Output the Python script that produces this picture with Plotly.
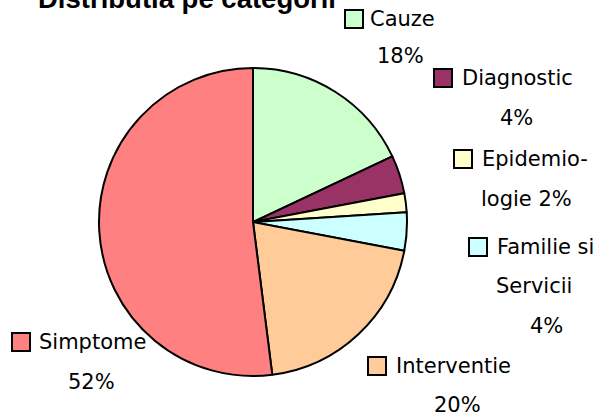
import plotly.graph_objects as go

# ---- data ----
categories = ["Cauze", "Diagnostic", "Epidemiologie", "Familie si Servicii", "Interventie", "Simptome"]
values = [18, 4, 2, 4, 20, 52]
colors = ["#CCFFCC", "#993366", "#FFFFCC", "#CCFFFF", "#FFCC99", "#FF8080"]
title_text = "Distributia pe categorii"

# how each category's label is broken into lines ("{p}" = percentage)
label_lines = [
    ["Cauze", "{p}"],
    ["Diagnostic", "{p}"],
    ["Epidemio-", "logie {p}"],
    ["Familie si", "Servicii", "{p}"],
    ["Interventie", "{p}"],
    ["Simptome", "{p}"],
]

# ---- layout (pixels) ----
W, H = 600, 417
def px(x):
    return x / W
def py(y):
    return 1 - y / H

# key-square left, first line centre y, first line text left, then (centre x, centre y) for following lines
label_pos = [
    (345, 19, 368, [(400, 56)]),
    (434, 78, 460, [(516, 118)]),
    (454, 159, 480, [(526, 199)]),
    (469, 247, 495, [(534, 286), (546, 326)]),
    (368, 366, 394, [(457, 405)]),
    (12, 342, 37, [(91, 382)]),
]

cx, cy, r = 253, 222, 154
fig = go.Figure(go.Pie(
    labels=categories,
    values=values,
    sort=False,
    direction="clockwise",
    rotation=0,
    marker=dict(colors=colors, line=dict(color="black", width=2)),
    textinfo="none",
    hoverinfo="label+percent",
    showlegend=False,
    domain=dict(x=[px(cx - r), px(cx + r)], y=[py(cy + r), py(cy - r)]),
))

font_name = "DejaVu Sans"
fsize = 21
annotations = []
shapes = []
for cat, val, col, lines, pos in zip(categories, values, colors, label_lines, label_pos):
    kx, y1, tx, rest = pos
    pct = f"{val}%"
    shapes.append(dict(type="rect", xref="paper", yref="paper",
                       x0=px(kx), x1=px(kx + 18), y0=py(y1 + 9), y1=py(y1 - 9),
                       fillcolor=col, line=dict(color="black", width=2)))
    annotations.append(dict(text=lines[0].replace("{p}", pct), x=px(tx), y=py(y1),
                            xref="paper", yref="paper", xanchor="left", yanchor="middle",
                            showarrow=False, font=dict(family=font_name, size=fsize, color="black")))
    for line, (lx, ly) in zip(lines[1:], rest):
        annotations.append(dict(text=line.replace("{p}", pct), x=px(lx), y=py(ly),
                                xref="paper", yref="paper", xanchor="center", yanchor="middle",
                                showarrow=False, font=dict(family=font_name, size=fsize, color="black")))

annotations.append(dict(text="<b>" + title_text + "</b>", x=px(36), y=py(-2),
                        xref="paper", yref="paper", xanchor="left", yanchor="middle",
                        showarrow=False, font=dict(family="Liberation Sans", size=27.5, color="black")))

fig.update_layout(
    width=W, height=H,
    margin=dict(l=0, r=0, t=0, b=0),
    paper_bgcolor="white", plot_bgcolor="white",
    annotations=annotations, shapes=shapes,
)
fig.write_html("out.html", config={"displayModeBar": False},
               post_script="document.body.style.margin='0';document.body.style.padding='0';")
